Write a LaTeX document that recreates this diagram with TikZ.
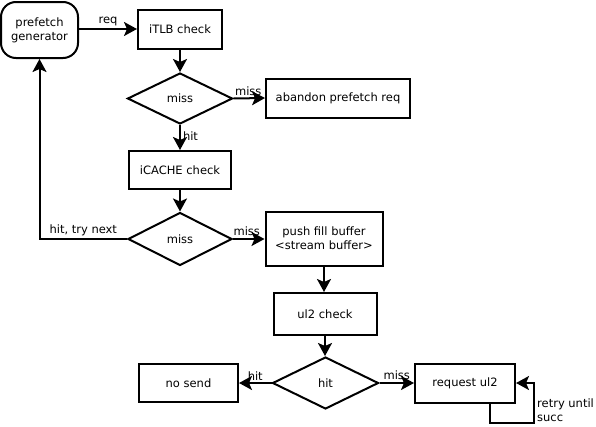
\documentclass[tikz,border=0pt]{standalone}
\usepackage{fontspec}
\setmainfont{DejaVu Sans}
\usetikzlibrary{shapes.geometric,arrows.meta}
\begin{document}
\begin{tikzpicture}[x=1pt,y=-1pt,
  font=\fontsize{11.5}{14}\selectfont,
  box/.style={draw,line width=2pt,rectangle,inner sep=0pt,align=center},
  dia/.style={draw,line width=2pt,diamond,inner sep=0pt,aspect=2},
  conn/.style={line width=2pt,-{Stealth[length=13pt,width=14pt,inset=3pt]}},
  lbl/.style={inner sep=1pt}]
\useasboundingbox (0,0) rectangle (596,426);
\node[box,rounded corners=15pt,minimum width=77,minimum height=56] (gen) at (39.5,30) {prefetch\\generator};
\node[box,minimum width=84,minimum height=39] (itlb) at (180,29) {iTLB check};
\node[dia,minimum width=105,minimum height=51] (d1) at (180,98.5) {miss};
\node[box,minimum width=144,minimum height=39] (aband) at (338,98) {abandon prefetch req};
\node[box,minimum width=102,minimum height=38] (icache) at (180,170) {iCACHE check};
\node[dia,minimum width=104,minimum height=53] (d2) at (180,239) {miss};
\node[box,minimum width=117,minimum height=54] (push) at (324,238.5) {push fill buffer\\<stream buffer>};
\node[box,minimum width=103,minimum height=42] (ul2) at (325,314) {ul2 check};
\node[dia,minimum width=106,minimum height=52] (d3) at (325.5,383) {hit};
\node[box,minimum width=99,minimum height=38] (nosend) at (188.5,383) {no send};
\node[box,minimum width=100,minimum height=39] (req) at (465,383) {request ul2};
\coordinate (c1) at (39.5,239);
\coordinate (l1) at (490,423);
\coordinate (l2) at (534,423);
\draw[conn] (gen.east |- itlb.west) -- (itlb.west) node[lbl,midway,above=1pt] {req};
\draw[conn] (itlb.south) -- (d1.north);
\draw[conn] (d1.east) -- (aband.west) node[lbl,midway,above=1pt,xshift=-1pt] {miss};
\draw[conn] (d1.south) -- (icache.north) node[lbl,midway,right=1pt,yshift=1pt] {hit};
\draw[conn] (icache.south) -- (d2.north);
\draw[conn] (d2.east) -- (push.west |- d2.east) node[lbl,midway,above=1pt,xshift=-2pt] {miss};
\draw[conn] (d2.west) -- (c1) node[lbl,pos=0.5,above=1pt] {hit, try next} -- (gen.south);
\draw[conn] (push.south) -- (ul2.north -| push.south);
\draw[conn] (ul2.south) -- (d3.north -| ul2.south);
\draw[conn] (d3.west) -- (nosend.east) node[lbl,midway,above=1pt] {hit};
\draw[conn] (d3.east) -- (req.west) node[lbl,midway,above=1pt] {miss};
\draw[conn] (req.south -| l1) -- (l1) -- (l2) -- (l2 |- req.east) -- (req.east);
\node[lbl,anchor=west,align=left] (retry) at (536,410) {retry until\\succ};
\end{tikzpicture}
\end{document}
